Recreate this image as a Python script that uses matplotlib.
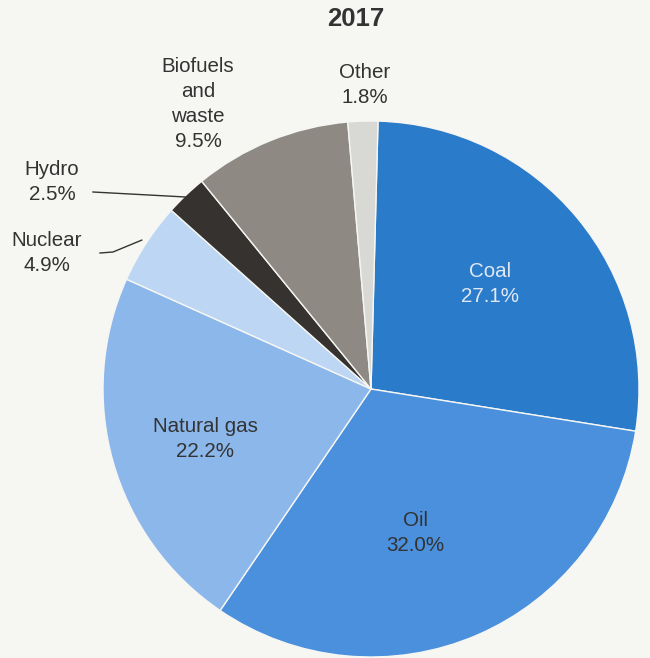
import numpy as np
import matplotlib.pyplot as plt

plt.rcParams['font.family'] = ['Liberation Sans', 'DejaVu Sans']

sources = ['Coal', 'Oil', 'Natural gas', 'Nuclear', 'Hydro', 'Biofuels\nand\nwaste', 'Other']
shares = [27.1, 32.0, 22.2, 4.9, 2.5, 9.5, 1.8]
colors = ['#2b7bcb', '#4a90dc', '#8cb7ea', '#bcd6f4', '#35322f', '#8e8a83', '#d8d8d4']
year = '2017'

W, H = 650, 658
cx, cy, R = 371, 389, 268
bg = '#f6f6f3'

def px(x, y):
    # pixel position -> data coords (pie radius = 1)
    return (x - cx) / R, (cy - y) / R

fig = plt.figure(figsize=(W / 100, H / 100), dpi=100, facecolor=bg)
ax = fig.add_axes([0, 0, 1, 1])
ax.set_facecolor(bg)

wedges, _ = ax.pie(shares, colors=colors, startangle=88.5, counterclock=False,
                   wedgeprops=dict(edgecolor=bg, linewidth=1.0))
ax.set_xlim(-cx / R, (W - cx) / R)
ax.set_ylim((cy - H) / R, cy / R)
ax.set_aspect('auto')
ax.axis('off')

def label(i):
    return '%s\n%.1f%%' % (sources[i], shares[i])

def mid(i):
    a = np.deg2rad((wedges[i].theta1 + wedges[i].theta2) / 2)
    return np.cos(a), np.sin(a)

txt = dict(fontsize=14.8, color='#333333', ha='center', va='center', linespacing=1.38)

# labels inside the big slices
ax.text(*px(490, 284), label(0), **dict(txt, color='#dfe8f3'))
ax.text(*px(415, 533), label(1), **txt)
ax.text(*px(205, 439), label(2), **txt)

# small slices labelled outside
ax.text(*px(365, 85), label(6), **txt)
ax.text(*px(198, 104), label(5), **txt)
ax.text(*px(52, 182), label(4), **txt)
ax.text(*px(47, 253), label(3), **txt)

# leader lines
hx, hy = mid(4)
x0, y0 = px(93, 192)
ax.plot([x0, hx * 0.99], [y0, hy * 0.99], color='#333333', lw=1.0)
nx, ny = mid(3)
x0, y0 = px(100, 253)
x1, y1 = px(113, 252)
ax.plot([x0, x1, nx * 1.02], [y0, y1, ny * 1.02], color='#333333', lw=1.0)

ax.text(*px(356, 19), year, fontsize=18.5, fontweight='bold', color='#333333',
        ha='center', va='center')

fig.savefig('out.png', dpi=100, facecolor=fig.get_facecolor())
